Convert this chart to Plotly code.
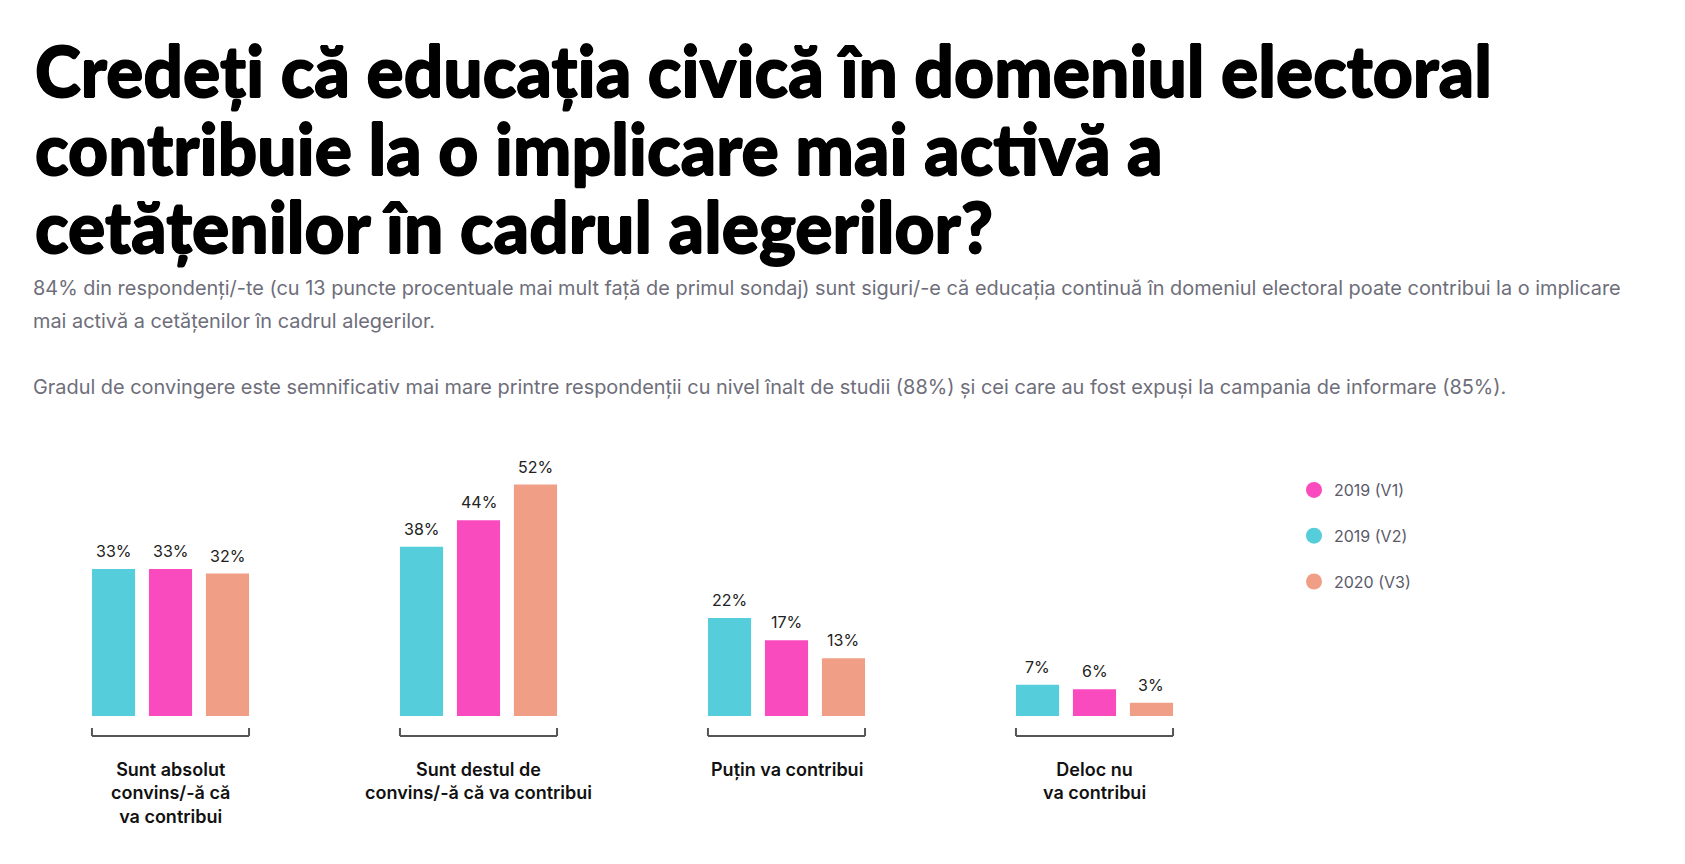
import plotly.graph_objects as go

# data
categories = [
    "Sunt absolut<br>convins/-ă că<br>va contribui",
    "Sunt destul de<br>convins/-ă că va contribui",
    "Puțin va contribui",
    "Deloc nu<br>va contribui",
]
series_names = ["2019 (V2)", "2019 (V1)", "2020 (V3)"]
values_v2 = [33, 38, 22, 7]
values_v1 = [33, 44, 17, 6]
values_v3 = [32, 52, 13, 3]
legend_order = ["2019 (V1)", "2019 (V2)", "2020 (V3)"]

colors = {"2019 (V1)": "#fa4bbe", "2019 (V2)": "#55cddb", "2020 (V3)": "#f19e87"}

title_lines = [
    "Credeți că educația civică în domeniul electoral",
    "contribuie la o implicare mai activă a",
    "cetățenilor în cadrul alegerilor?",
]
sub_lines = [
    "84% din respondenți/-te (cu 13 puncte procentuale mai mult față de primul sondaj) sunt siguri/-e că educația continuă în domeniul electoral poate contribui la o implicare",
    "mai activă a cetățenilor în cadrul alegerilor.",
    "Gradul de convingere este semnificativ mai mare printre respondenții cu nivel înalt de studii (88%) și cei care au fost expuși la campania de informare (85%).",
]

W, H = 1685, 864
LEFT, RIGHT = 20, 1240          # plot area in figure pixels
PLOT_TOP, PLOT_BOTTOM = 432, 708
BAR_W = 0.14
BAR_OFFSETS = [-0.255, -0.07, 0.115]


def py(pix):
    # pixel row -> paper y
    return (PLOT_BOTTOM - pix) / (PLOT_BOTTOM - PLOT_TOP)


fig = go.Figure()

xs = list(range(len(categories)))
for name, vals, off in zip(series_names, [values_v2, values_v1, values_v3], BAR_OFFSETS):
    fig.add_trace(go.Bar(
        x=xs, y=vals, name=name, width=BAR_W, offset=off,
        marker=dict(color=colors[name], line=dict(width=0)),
        showlegend=False, hoverinfo="skip",
    ))
    for i, v in zip(xs, vals):
        fig.add_annotation(
            x=i + off + BAR_W / 2, y=v, xref="x", yref="y", text=f"{v}%",
            showarrow=False, yanchor="middle", yshift=18,
            font=dict(family="Inter", size=16, color="#222222"),
        )

# legend with round markers
for i, name in enumerate(legend_order):
    fig.add_trace(go.Scatter(
        x=[None], y=[None], mode="markers", name=name,
        marker=dict(color=colors[name], size=18, symbol="circle"),
        legendgroup=f"g{i}",
    ))

# brackets under each group
for i in xs:
    a, b = i + BAR_OFFSETS[0], i + BAR_OFFSETS[-1] + BAR_W
    line = dict(color="#555555", width=2)
    common = dict(xref="x", yref="paper", line=line)
    fig.add_shape(type="line", x0=a, x1=b, y0=py(728), y1=py(728), **common)
    fig.add_shape(type="line", x0=a, x1=a, y0=py(728), y1=py(720), **common)
    fig.add_shape(type="line", x0=b, x1=b, y0=py(728), y1=py(720), **common)

# category labels
for i, cat in zip(xs, categories):
    fig.add_annotation(
        x=i, y=0, xref="x", yref="y", text=cat, showarrow=False,
        yanchor="top", yshift=-41, align="center",
        font=dict(family="Inter", size=18, color="#111111", weight=600),
    )

# title
heavy = "0.7px 0 0 #000, -0.7px 0 0 #000, 0 0.7px 0 #000, 0 -0.7px 0 #000"
for k, line in enumerate(title_lines):
    fig.add_annotation(
        x=0, xref="paper", xshift=5, y=py(62 + 78 * k), yref="paper", text=line,
        showarrow=False, xanchor="left", yanchor="middle",
        font=dict(family="Lato", size=69.5, color="#000000", weight=900, shadow=heavy),
    )

# subtitle
for line, pix in zip(sub_lines, [280, 313, 379]):
    fig.add_annotation(
        x=0, xref="paper", xshift=3, y=py(pix), yref="paper", text=line,
        showarrow=False, xanchor="left", yanchor="middle",
        font=dict(family="Inter", size=19.9, color="#6e6e7a"),
    )

span = (RIGHT - LEFT) / 308.0
x0 = -(162.5 - LEFT) / 308.0
fig.update_layout(
    width=W, height=H,
    margin=dict(l=LEFT, r=W - RIGHT, t=PLOT_TOP, b=H - PLOT_BOTTOM),
    paper_bgcolor="white", plot_bgcolor="white",
    barmode="group",
    xaxis=dict(range=[x0, x0 + span], showticklabels=False, showgrid=False,
               zeroline=False, showline=False, fixedrange=True),
    yaxis=dict(range=[0, 62], visible=False, fixedrange=True),
    legend=dict(x=(1286 - LEFT) / (RIGHT - LEFT), y=py(465), xanchor="left", yanchor="top",
                font=dict(family="Inter", size=16, color="#5a5a6a"),
                tracegroupgap=22, itemsizing="trace", bgcolor="rgba(0,0,0,0)"),
    font=dict(family="Inter"),
)

fig.write_html("out.html")
